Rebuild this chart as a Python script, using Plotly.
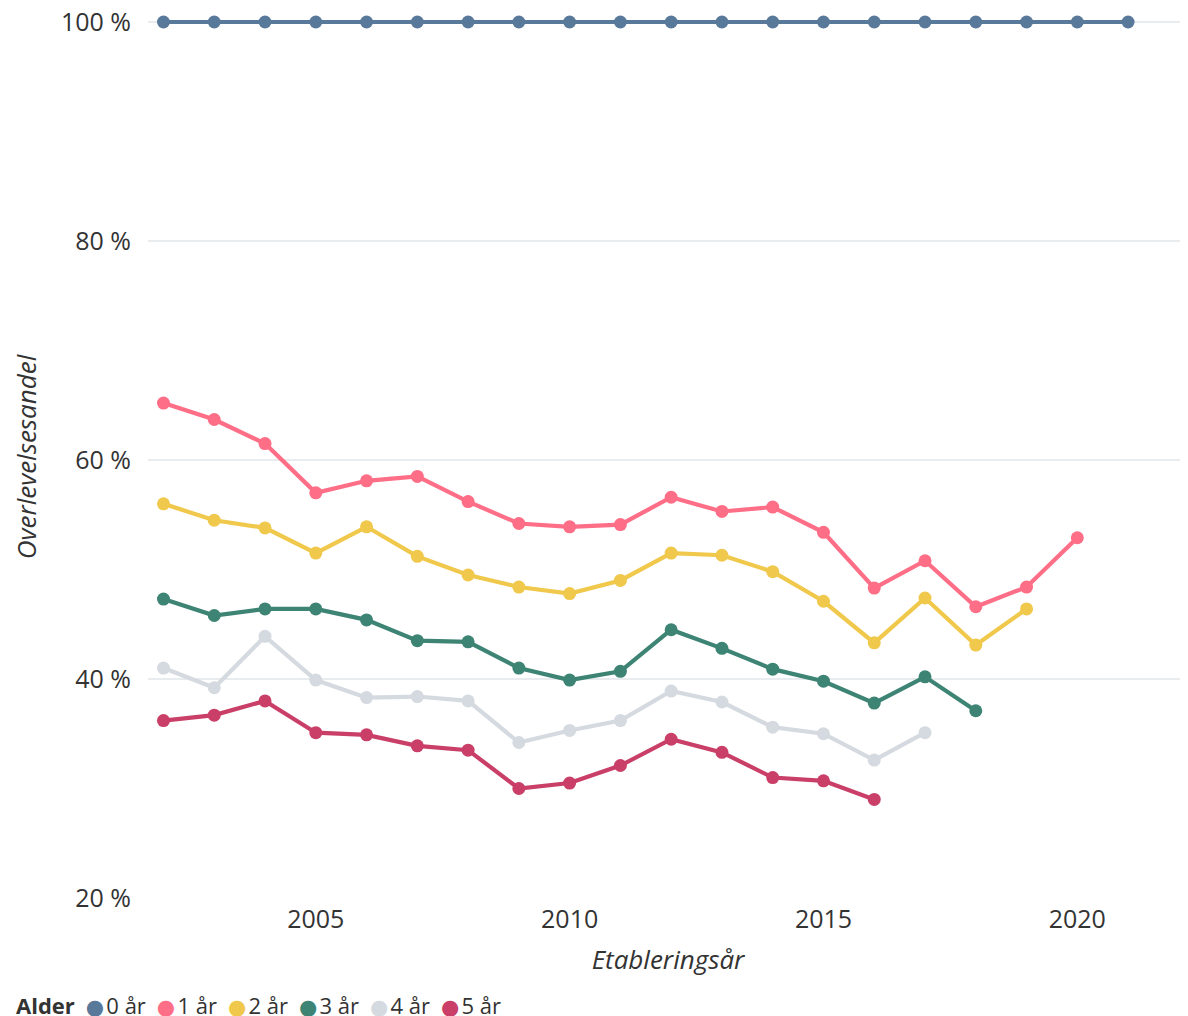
import plotly.graph_objects as go

years = list(range(2002, 2022))
series_names = ["0 år", "1 år", "2 år", "3 år", "4 år", "5 år"]
colors = ["#59799A", "#FE6E87", "#F0C84B", "#3D8474", "#D5DAE0", "#C93F68"]

v0 = [100] * 20
v1 = [65.2, 63.7, 61.5, 57.0, 58.1, 58.5, 56.2, 54.2, 53.9, 54.1, 56.6, 55.3, 55.7, 53.4, 48.3, 50.8, 46.6, 48.4, 52.9]
v2 = [56.0, 54.5, 53.8, 51.5, 53.9, 51.2, 49.5, 48.4, 47.8, 49.0, 51.5, 51.3, 49.8, 47.1, 43.3, 47.4, 43.1, 46.4]
v3 = [47.3, 45.8, 46.4, 46.4, 45.4, 43.5, 43.4, 41.0, 39.9, 40.7, 44.5, 42.8, 40.9, 39.8, 37.8, 40.2, 37.1]
v4 = [41.0, 39.2, 43.9, 39.9, 38.3, 38.4, 38.0, 34.2, 35.3, 36.2, 38.9, 37.9, 35.6, 35.0, 32.6, 35.1]
v5 = [36.2, 36.7, 38.0, 35.1, 34.9, 33.9, 33.5, 30.0, 30.5, 32.1, 34.5, 33.3, 31.0, 30.7, 29.0]
values = [v0, v1, v2, v3, v4, v5]

y_ticks = [20, 40, 60, 80, 100]
y_ticktext = ["20 %", "40 %", "60 %", "80 %", "100 %"]
x_ticks = [2005, 2010, 2015, 2020]
legend_title = "Alder"

font_family = "Open Sans, Lato, sans-serif"
text_color = "#333333"

fig = go.Figure()
for name, col, vals in zip(series_names, colors, values):
    fig.add_trace(go.Scatter(
        x=years[:len(vals)], y=vals, mode="lines+markers", name=name,
        line=dict(color=col, width=4.2), marker=dict(color=col, size=13),
        showlegend=False, cliponaxis=False,
    ))

legend_parts = [f"<b>{legend_title}</b>"]
for name, col in zip(series_names, colors):
    legend_parts.append(
        f"<span style='color:{col};font-size:21px;font-family:DejaVu Sans'>●</span>\u200a{name}"
    )
fig.add_annotation(
    text="\u2002".join(legend_parts), xref="paper", yref="paper",
    x=-0.1288, y=-0.121, xanchor="left", yanchor="middle", showarrow=False,
    font=dict(size=22, color=text_color, family=font_family),
)

fig.update_layout(
    width=1180, height=1008,
    margin=dict(l=140, r=0, t=8, b=118),
    paper_bgcolor="white", plot_bgcolor="white",
    font=dict(family=font_family, size=25, color=text_color),
    showlegend=False,
    xaxis=dict(
        range=[2001.695, 2022.18], tickvals=x_ticks, showgrid=False, zeroline=False,
        showline=False, ticks="", ticklabelstandoff=4, automargin=False,
        tickfont=dict(size=25),
        title=dict(text="<i>Etableringsår</i>", standoff=16, font=dict(size=26)),
    ),
    yaxis=dict(
        range=[20, 100.55], tickvals=y_ticks, ticktext=y_ticktext,
        showgrid=True, gridcolor="#E9ECEF", gridwidth=1.5, zeroline=False,
        showline=False, ticks="", ticklabelstandoff=16, ticklabeloverflow="allow",
        automargin=False, tickfont=dict(size=25),
        title=dict(text="<i>Overlevelsesandel</i>", standoff=26, font=dict(size=26)),
    ),
)

fig.write_html("out.html")
